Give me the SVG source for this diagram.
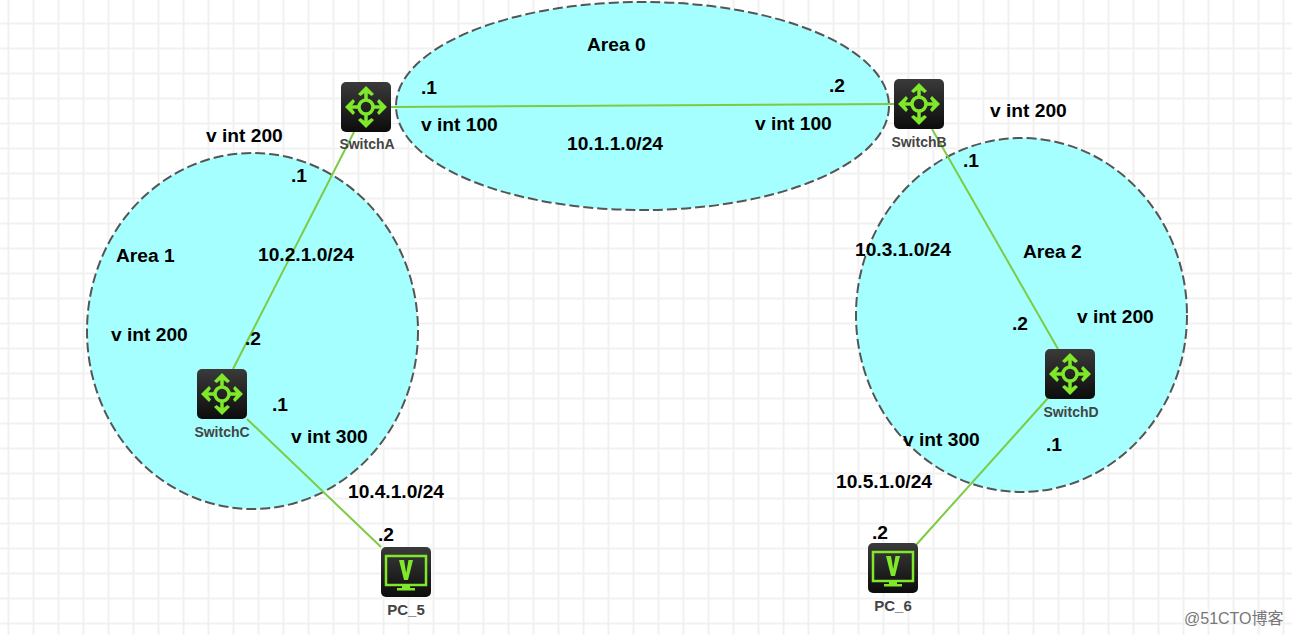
<svg xmlns="http://www.w3.org/2000/svg" width="1292" height="635" viewBox="0 0 1292 635">
<style>
.l{font-family:"Liberation Sans",Arial,sans-serif;font-weight:bold;font-size:19.2px;fill:#000}
.n{font-family:"Liberation Sans",Arial,sans-serif;font-weight:bold;font-size:14px;fill:#444;text-anchor:middle}
.a{fill:#a6ffff;stroke:#555;stroke-width:2;stroke-dasharray:10 4}
.c{stroke:#7ccb42;stroke-width:2;fill:none}
.g{stroke:#f1f1f1;stroke-width:2;fill:none}
.k{fill:#7fe82a;stroke:none}
.s{stroke:#7fe82a;stroke-width:3.500;fill:none}
</style>
<defs>
<linearGradient id="bg" x1="0" y1="0" x2="0" y2="1"><stop offset="0" stop-color="#3a3a3a"/><stop offset="1" stop-color="#0c0c0c"/></linearGradient>
<g id="sw">
<rect width="50" height="50" rx="5" fill="url(#bg)"/>
<circle cx="25" cy="25" r="7" class="s"/>
<path class="s" d="M25 18V9M25 32V41M18 25H9M32 25H41"/>
<path class="k" d="M25 4l8 8-2.500 2-5.500-4-5.500 4-2.500-2zM25 46l-8-8 2.500-2 5.500 4 5.500-4 2.500 2zM4 25l8-8 2 2.500-4 5.500 4 5.500-2 2.500zM46 25l-8 8-2-2.500 4-5.500-4-5.500 2-2.500z"/>
</g>
<g id="pc">
<rect width="50" height="50" rx="5" fill="url(#bg)"/>
<rect x="5" y="9" width="40" height="29" fill="none" stroke="#7fe82a" stroke-width="2.500"/>
<path class="k" d="M18 13h5l2.200 13 2.300-13H32l-5 20h-4z"/>
<path class="k" d="M21 38h8v3h5v2.500H16V41h5z"/>
</g>
</defs>
<rect width="1292" height="635" fill="#fff"/>
<path class="g" d="M8.500 0V635M33.500 0V635M58.500 0V635M83.500 0V635M108.500 0V635M133.500 0V635M158.500 0V635M183.500 0V635M208.500 0V635M233.500 0V635M258.500 0V635M283.500 0V635M308.500 0V635M333.500 0V635M358.500 0V635M383.500 0V635M408.500 0V635M433.500 0V635M458.500 0V635M483.500 0V635M508.500 0V635M533.500 0V635M558.500 0V635M583.500 0V635M608.500 0V635M633.500 0V635M658.500 0V635M683.500 0V635M708.500 0V635M733.500 0V635M758.500 0V635M783.500 0V635M808.500 0V635M833.500 0V635M858.500 0V635M883.500 0V635M908.500 0V635M933.500 0V635M958.500 0V635M983.500 0V635M1008.500 0V635M1033.500 0V635M1058.500 0V635M1083.500 0V635M1108.500 0V635M1133.500 0V635M1158.500 0V635M1183.500 0V635M1208.500 0V635M1233.500 0V635M1258.500 0V635M1283.500 0V635"/>
<path class="g" d="M0 23.500H1292M0 48.500H1292M0 73.500H1292M0 98.500H1292M0 123.500H1292M0 148.500H1292M0 173.500H1292M0 198.500H1292M0 223.500H1292M0 248.500H1292M0 273.500H1292M0 298.500H1292M0 323.500H1292M0 348.500H1292M0 373.500H1292M0 398.500H1292M0 423.500H1292M0 448.500H1292M0 473.500H1292M0 498.500H1292M0 523.500H1292M0 548.500H1292M0 573.500H1292M0 598.500H1292M0 623.500H1292"/>
<ellipse id="area0" class="a" cx="642.500" cy="106" rx="246.500" ry="104"/>
<ellipse id="area1" class="a" cx="252.500" cy="331" rx="165.500" ry="178"/>
<ellipse id="area2" class="a" cx="1021.500" cy="315" rx="165.500" ry="177"/>
<g id="connectors">
<path class="c" d="M391 107L894 104"/>
<path class="c" d="M354 132L233 369"/>
<path class="c" d="M932 129L1058 349"/>
<path class="c" d="M247 419L381 547"/>
<path class="c" d="M1048 398L916 545"/>
</g>
<g id="switchA"><use href="#sw" x="341" y="82"/><text class="n" x="367" y="149">SwitchA</text></g>
<g id="switchB"><use href="#sw" x="894" y="79"/><text class="n" x="919" y="147">SwitchB</text></g>
<g id="switchC"><use href="#sw" x="197" y="369"/><text class="n" x="222" y="437">SwitchC</text></g>
<g id="switchD"><use href="#sw" x="1045" y="349"/><text class="n" x="1071" y="417">SwitchD</text></g>
<g id="pc5"><use href="#pc" x="381" y="547"/><text class="n" x="406" y="615" style="font-size:15px">PC_5</text></g>
<g id="pc6"><use href="#pc" x="868" y="543"/><text class="n" x="893" y="611" style="font-size:15px">PC_6</text></g>
<g id="labels">
<text class="l" x="587" y="51">Area 0</text>
<text class="l" x="116" y="262">Area 1</text>
<text class="l" x="1023" y="258">Area 2</text>
<text class="l" x="421" y="94">.1</text>
<text class="l" x="829" y="92">.2</text>
<text class="l" x="421" y="131">v int 100</text>
<text class="l" x="755" y="130">v int 100</text>
<text class="l" x="567" y="150">10.1.1.0/24</text>
<text class="l" x="206" y="142">v int 200</text>
<text class="l" x="291" y="182">.1</text>
<text class="l" x="258" y="261">10.2.1.0/24</text>
<text class="l" x="111" y="341">v int 200</text>
<text class="l" x="245" y="345">.2</text>
<text class="l" x="272" y="411">.1</text>
<text class="l" x="291" y="443">v int 300</text>
<text class="l" x="348" y="498">10.4.1.0/24</text>
<text class="l" x="378" y="541">.2</text>
<text class="l" x="990" y="117">v int 200</text>
<text class="l" x="963" y="167">.1</text>
<text class="l" x="855" y="256">10.3.1.0/24</text>
<text class="l" x="1012" y="330">.2</text>
<text class="l" x="1077" y="323">v int 200</text>
<text class="l" x="903" y="446">v int 300</text>
<text class="l" x="1046" y="451">.1</text>
<text class="l" x="836" y="488">10.5.1.0/24</text>
<text class="l" x="872" y="539">.2</text>
</g>
<text x="1184" y="624" font-family="'Liberation Sans','Noto Sans CJK SC',sans-serif" font-size="16" fill="#777">@51CTO博客</text>
</svg>
